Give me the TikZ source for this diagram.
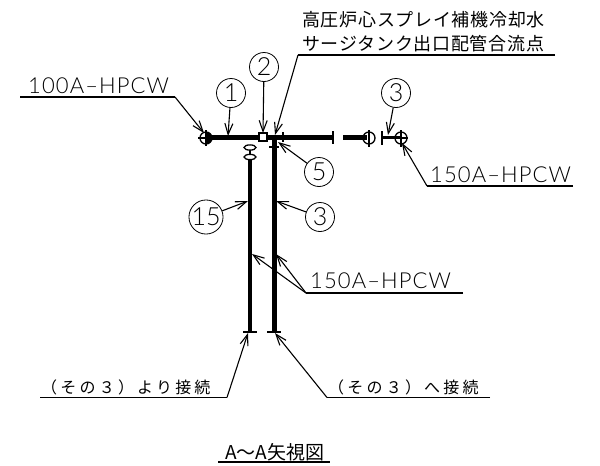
\documentclass[tikz,border=0pt]{standalone}
\usepackage{fontspec}
\usetikzlibrary{arrows.meta}
\newfontfamily\cjk[LetterSpace=4]{Noto Sans CJK JP}
\newfontfamily\cjkwide[LetterSpace=20]{Noto Sans CJK JP}
\newfontfamily\cjktitle{Noto Sans CJK JP}
\newfontfamily\latn[LetterSpace=5]{Lato Light}
\newfontfamily\digit{Lato Light}
\tikzset{
	pipe/.style={line width=4.5pt},
	thinpipe/.style={line width=3pt},
	tickbar/.style={line width=1.3pt},
	leader/.style={line width=1.1pt, -{Straight Barb[length=11pt,width=8pt,line width=1.1pt]}},
	rule/.style={line width=1.2pt},
	balloon/.style={circle, draw, line width=0.8pt, minimum size=29pt, inner sep=0pt, font=\digit\fontsize{25}{25}\selectfont},
	tag/.style={anchor=base west, inner sep=0pt, font=\latn\fontsize{22}{22}\selectfont},
	note/.style={anchor=base west, inner sep=0pt, font=\cjk\fontsize{18}{18}\selectfont},
	small note/.style={anchor=base west, inner sep=0pt, font=\cjkwide\fontsize{16}{16}\selectfont},
}
\begin{document}
\begin{tikzpicture}[x=1pt,y=-1pt]
	\useasboundingbox (0,0) rectangle (600,466);
	% pipes
	\draw[pipe] (206,137.5) -- (333,137.5);
	\draw[pipe] (343,137.5) -- (367,137.5);
	\draw[thinpipe] (382,137.5) -- (400,137.5);
	\draw[pipe] (274.5,137) -- (274.5,332);
	\draw[pipe] (250,160) -- (250,332);
	% flanges
	\fill (206,138) -- (206,132) arc[start angle=90,end angle=-90,radius=6pt] -- cycle;
	\draw[tickbar] (206,138) circle (6pt);
	\draw[tickbar] (206,130) -- (206,146) (198,138) -- (214,138);
	\draw[tickbar, fill=white] (263,137) +(-4,-4) rectangle +(4,4);
	\draw[tickbar] (333,131) -- (333,144);
	\draw[tickbar] (283,132) -- (283,142);
	\draw[tickbar] (269,147) -- (279,147);
	\draw[tickbar] (369,138) circle (6pt);
	\draw[tickbar] (369,130) -- (369,147);
	\draw[tickbar] (382,131) -- (382,145);
	\draw[tickbar] (401,138) circle (6pt);
	\draw[tickbar] (401,130) -- (401,147) (393,138) -- (408,138);
	\draw[tickbar, fill=white] (250,157) ellipse (6pt and 2.6pt);
	\draw[tickbar] (250,150) -- (250,155);
	\draw[tickbar, fill=white] (250,147.5) ellipse (6pt and 2.6pt);
	\draw[tickbar] (243,332) -- (257,332);
	\draw[tickbar] (267,332) -- (281,332);
	% balloons
	\node[balloon] (b1) at (231,93) {1};
	\node[balloon] (b2) at (264,67) {2};
	\node[balloon] (b3) at (396,93) {3};
	\node[balloon] (b5) at (319,172) {5};
	\node[balloon] (b15) at (206,217) {15};
	\node[balloon] (b3v) at (320,217) {3};
	% ends of the leaders
	\coordinate (p1) at (228,136);
	\coordinate (p2) at (263,133);
	\coordinate (p3) at (388,135);
	\coordinate (p5) at (278,142);
	\coordinate (p15) at (248,201);
	\coordinate (p3v) at (276,201);
	\coordinate (ptop) at (275,135);
	\coordinate (phead) at (204,133);
	\coordinate (pside) at (402,143);
	\coordinate (pmidl) at (252,254);
	\coordinate (pmidr) at (276,254);
	\coordinate (pbotl) at (248,333);
	\coordinate (pbotr) at (275,333);
	\draw[leader] (b1) -- (p1);
	\draw[leader] (b2) -- (p2);
	\draw[leader] (b3) -- (p3);
	\draw[leader] (b5) -- (p5);
	\draw[leader] (b15) -- (p15);
	\draw[leader] (b3v) -- (p3v);
	% labels
	\node[note] (ltop) at (302,26) {高圧炉心スプレイ補機冷却水};
	\node[note] (lsurge) at (302,50) {サージタンク出口配管合流点};
	\node[tag] (lhead) at (28,93) {100A–HPCW};
	\node[tag] (lside) at (430,182) {150A–HPCW};
	\node[tag] (lmid) at (310,288) {150A–HPCW};
	\node[small note] (lfrom) at (41,393) {（その３）より接続};
	\node[small note] (lto) at (328,393) {（その３）へ接続};
	\node[anchor=base west, inner sep=0pt, font=\cjktitle\fontsize{19}{19}\selectfont] (ltitle) at (225,459) {A～A矢視図};
	% rules under the labels
	\coordinate (r1) at (298,55); \coordinate (r1e) at (555,55);
	\coordinate (r2) at (175,97); \coordinate (r2e) at (20,97);
	\coordinate (r3) at (427,186); \coordinate (r3e) at (573,186);
	\coordinate (r4) at (306,293); \coordinate (r4e) at (463,293);
	\coordinate (r5) at (227,397.5); \coordinate (r5e) at (40,397.5);
	\coordinate (r6) at (327,397.5); \coordinate (r6e) at (490,397.5);
	\coordinate (r7) at (218,462); \coordinate (r7e) at (330,462);
	\draw[rule] (r1e) -- (r1);
	\draw[rule] (r2e) -- (r2);
	\draw[rule] (r3e) -- (r3);
	\draw[rule] (r4e) -- (r4);
	\draw[rule] (r5e) -- (r5);
	\draw[rule] (r6e) -- (r6);
	\draw[rule] (r7) -- (r7e);
	\draw[leader] (r1) -- (ptop);
	\draw[leader] (r2) -- (phead);
	\draw[leader] (r3) -- (pside);
	\draw[leader] (r4) -- (pmidl);
	\draw[leader] (r4) -- (pmidr);
	\draw[leader] (r5) -- (pbotl);
	\draw[leader] (r6) -- (pbotr);
\end{tikzpicture}
\end{document}
